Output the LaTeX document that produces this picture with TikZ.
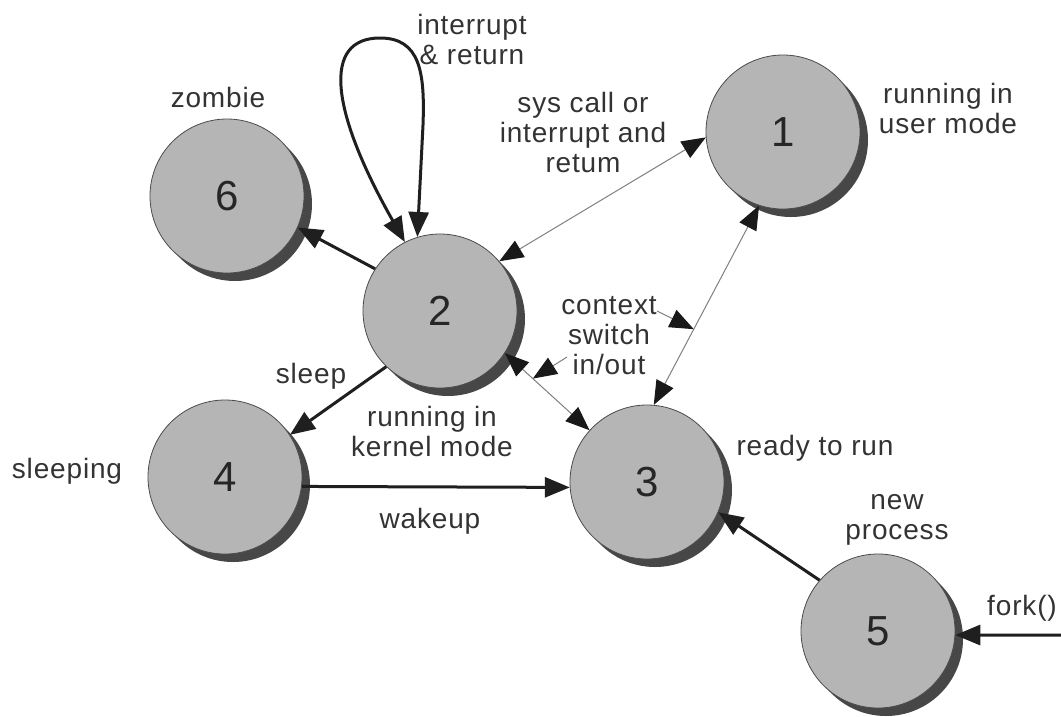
\documentclass[tikz,border=0pt]{standalone}
\usepackage{fontspec}
\setmainfont{Liberation Sans}[LetterSpace=3]
\usetikzlibrary{arrows.meta,shadows,calc}
\begin{document}
\begin{tikzpicture}[x=1pt,y=-1pt,
  >={Triangle[length=25pt,width=20pt]},
  state/.style={circle, draw=black!70, line width=0.8pt, fill=black!29,
    minimum size=154pt, inner sep=0pt, font=\fontsize{42}{42}\selectfont, text=black!85,
    drop shadow={shadow xshift=8pt, shadow yshift=-8pt, fill=black!72, opacity=1}},
  lbl/.style={font=\fontsize{28}{30}\selectfont, text=black!80, inner sep=0pt, align=center},
  heavy/.style={line width=3pt, draw=black!88},
  light/.style={line width=1pt, draw=black!50, >={Triangle[length=24pt,width=19pt,color=black!90]}}]
\fill[white] (0,0) rectangle (1061,716);
\useasboundingbox (0,0) rectangle (1061,716);

% states
\node[state] (n1) at (783,132) {1};
\node[state] (n2) at (440,311) {2};
\node[state] (n3) at (647,482) {3};
\node[state] (n4) at (225,477) {4};
\node[state] (n5) at (878,631) {5};
\node[state] (n6) at (227,196) {6};

% labels
\node[lbl] (l21) at (472,39) {interrupt\\\& return};
\node[lbl, anchor=base] (l6) at (218,107) {zombie};
\node[lbl] (l12) at (583,132) {sys call or\\interrupt and\\retum};
\node[lbl] (l1) at (948,108) {running in\\user mode};
\node[lbl] (lcs) at (609,336) {context\\switch\\in/out};
\node[lbl, anchor=base] (lsl) at (311,383) {sleep};
\node[lbl] (l2) at (432,431) {running in\\kernel mode};
\node[lbl, anchor=base] (l4) at (67,478) {sleeping};
\node[lbl, anchor=base] (lwk) at (430,528) {wakeup};
\node[lbl, anchor=base] (l3) at (815,455) {ready to run};
\node[lbl] (l5) at (897,520) {new\\process};
\node[lbl, anchor=base] (lfk) at (1022,615) {fork()};

% heavy arrows
\draw[heavy,->] (n2.147) -- (n6.336);
\draw[heavy,->] (n2.226) -- (n4.33);
\draw[heavy,->] (n4.-7) -- (n3.184);
\draw[heavy,->] (n5.139) -- (n3.337);
\coordinate (fk) at (1061,635);
\draw[heavy,->] (fk) -- (n5.-3);
\draw[heavy,<->] (n2.117) .. controls (330,110) and (322,38) .. (380,38)
  .. controls (420,38) and (425,72) .. (423,125) -- (n2.107);

% light arrows
\draw[light,<->] (n2.40) -- (n1.184);
\draw[light,<->] (n1.252) -- (n3.85);
\draw[light,<->] (n2.327) -- (n3.138);

% context switch pointers
\coordinate (c1) at ($(n1.252)!0.62!(n3.85)$);
\coordinate (c2) at ($(n2.327)!0.33!(n3.138)$);
\coordinate (s1) at (657,311);
\coordinate (s2) at (567,357);
\draw[light,->] (s1) -- (c1);
\draw[light,->] (s2) -- (c2);
\end{tikzpicture}
\end{document}
